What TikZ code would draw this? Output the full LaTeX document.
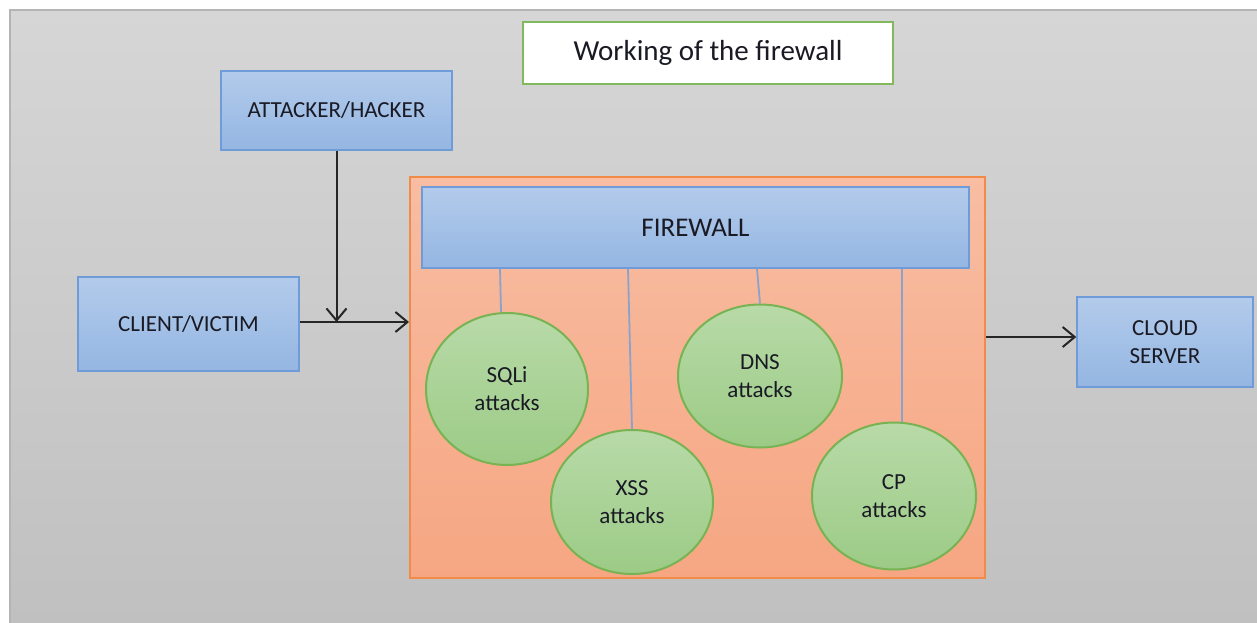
\documentclass[tikz,border=0pt]{standalone}
\usepackage{fontspec}
\setmainfont{Carlito}
\usetikzlibrary{arrows.meta,shapes.geometric}
\definecolor{bgtop}{HTML}{D6D6D6}
\definecolor{bgbot}{HTML}{C0C0C0}
\definecolor{bgedge}{HTML}{B4B4B4}
\definecolor{bluetop}{HTML}{B3CBEB}
\definecolor{bluebot}{HTML}{94B6E2}
\definecolor{blueedge}{HTML}{6F9BD8}
\definecolor{orgtop}{HTML}{F8BDA2}
\definecolor{orgbot}{HTML}{F6A682}
\definecolor{orgedge}{HTML}{F28A4A}
\definecolor{grntop}{HTML}{B8DAA8}
\definecolor{grnbot}{HTML}{9CCB86}
\definecolor{grnedge}{HTML}{77B352}
\definecolor{titleedge}{HTML}{82B85E}
\definecolor{linkcol}{HTML}{8AA2CC}
\definecolor{arrcol}{HTML}{262626}
\definecolor{txt}{HTML}{1A1A24}
\tikzset{
  bluebox/.style={draw=blueedge, line width=1.5pt, top color=bluetop, bottom color=bluebot,
    rectangle, inner sep=0pt, align=center, text=txt, font=\fontsize{23}{28}\selectfont},
  attack/.style={ellipse, draw=grnedge, line width=2pt, top color=grntop, bottom color=grnbot,
    inner sep=0pt, align=center, text=txt, font=\fontsize{23}{28}\selectfont},
  link/.style={draw=linkcol, line width=1.8pt},
  arr/.style={draw=arrcol, line width=2pt, -{Straight Barb[length=12pt,width=20pt,line width=2pt]}}
}
\begin{document}
\begin{tikzpicture}[x=1pt,y=-1pt]
\useasboundingbox (0,0) rectangle (1257,623);
\fill[white] (0,0) rectangle (1257,623);
\shade[top color=bgtop, bottom color=bgbot] (10,10) rectangle (1257,623);
\draw[bgedge, line width=1.5pt] (10,623) -- (10,10) -- (1257,10);

\node[draw=titleedge, line width=2.5pt, fill=white, minimum width=370pt, minimum height=62pt,
  inner sep=0pt, text=txt, font=\fontsize{29}{34}\selectfont] (title) at (708,53) {Working of the firewall};

\node[draw=orgedge, line width=2pt, top color=orgtop, bottom color=orgbot, minimum width=575pt,
  minimum height=401pt, inner sep=0pt] (org) at (697.5,377.5) {};

\node[bluebox, minimum width=231pt, minimum height=79pt] (att) at (336.5,110.5) {ATTACKER/HACKER};
\node[bluebox, minimum width=221pt, minimum height=94pt] (cli) at (188.5,324) {CLIENT/VICTIM};
\node[bluebox, minimum width=176pt, minimum height=90pt] (cloud) at (1165,342) {CLOUD\\SERVER};
\node[bluebox, minimum width=547pt, minimum height=81pt, font=\fontsize{27}{32}\selectfont] (fw) at (695.5,227.5) {FIREWALL};

\node[attack, minimum width=162pt, minimum height=152pt] (sq) at (507,389) {SQLi\\attacks};
\node[attack, minimum width=162pt, minimum height=144pt] (xs) at (632,502) {XSS\\attacks};
\node[attack, minimum width=164pt, minimum height=143pt] (dn) at (760,376) {DNS\\attacks};
\node[attack, minimum width=164pt, minimum height=147pt] (cp) at (894,496) {CP\\attacks};

\draw[link] ([xshift=-7pt]sq.north |- fw.south) -- ([xshift=-6pt]sq.north);
\draw[link] ([xshift=-4pt]xs.north |- fw.south) -- (xs.north);
\draw[link] ([xshift=-3pt]dn.north |- fw.south) -- (dn.north);
\draw[link] ([xshift=8pt]cp.north |- fw.south) -- ([xshift=8pt]cp.north);

\coordinate (j) at (336,322);
\coordinate (k) at (1030,337);
\draw[arr] (att.south) -- (att.south |- j);
\draw[arr] (cli.east |- j) -- (org.west |- j);
\draw[arr] (org.east |- k) -- (cloud.west |- k);
\end{tikzpicture}
\end{document}
